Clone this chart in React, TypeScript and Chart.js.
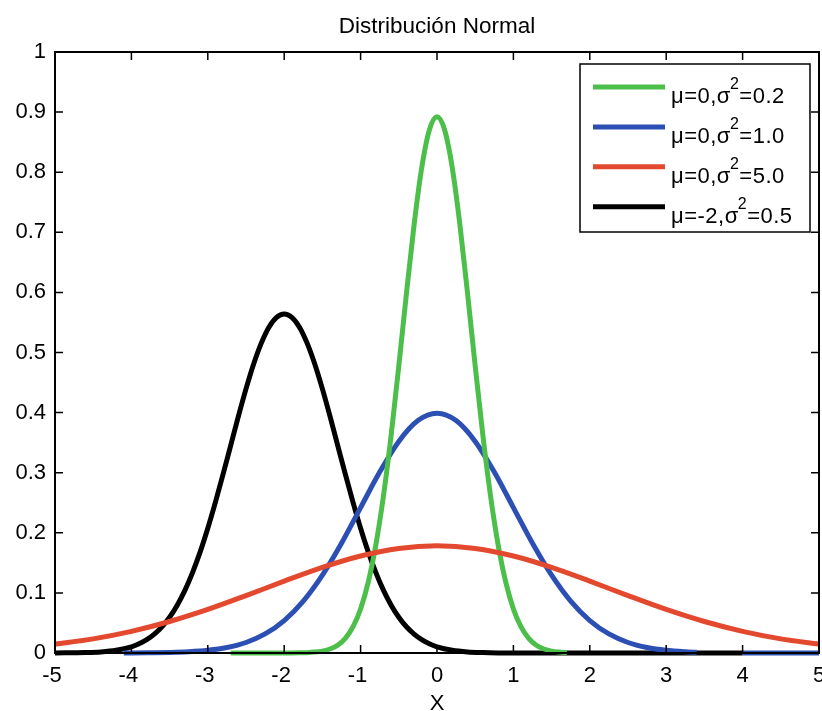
import React, { useEffect, useRef } from 'react';
import { Chart, registerables } from 'chart.js';

Chart.register(...registerables);

const TITLE = 'Distribución Normal';
const X_LABEL = 'X';
const FONT = '"Liberation Sans", Arial, Helvetica, sans-serif';

const X_MIN = -5;
const X_MAX = 5;
const Y_MIN = 0;
const Y_MAX = 1;

// μ=0, σ²=0.2
const greenX = [-2.7, -2, -1.8, -1.7, -1.6, -1.5, -1.4, -1.3, -1.2, -1.1, -1.0, -0.9, -0.8, -0.7, -0.6, -0.5, -0.4, -0.3, -0.2, -0.1, 0, 0.1, 0.2, 0.3, 0.4, 0.5, 0.6, 0.7, 0.8, 0.9, 1.0, 1.1, 1.2, 1.3, 1.4, 1.5, 1.6, 1.7];
const greenY = [0, 0, 0.0003, 0.0006, 0.0015, 0.0032, 0.0066, 0.013, 0.0244, 0.0434, 0.0732, 0.1178, 0.1801, 0.2621, 0.3627, 0.4775, 0.598, 0.7124, 0.8072, 0.8701, 0.8921, 0.8701, 0.8072, 0.7124, 0.598, 0.4775, 0.3627, 0.2621, 0.1801, 0.1178, 0.0732, 0.0434, 0.0244, 0.013, 0.0066, 0.0032, 0.0015, 0.0006];

// μ=0, σ²=1.0
const blueX = [-4.1, -4, -3.75, -3.5, -3.25, -3, -2.75, -2.5, -2.25, -2, -1.75, -1.5, -1.25, -1, -0.75, -0.5, -0.25, 0, 0.25, 0.5, 0.75, 1, 1.25, 1.5, 1.75, 2, 2.25, 2.5, 2.75, 3, 3.25, 3.4, 3.7, 4, 4.5, 5];
const blueY = [0.0001, 0.0001, 0.0004, 0.0009, 0.002, 0.0044, 0.0091, 0.0175, 0.0317, 0.054, 0.0863, 0.1295, 0.1826, 0.242, 0.3011, 0.3521, 0.3867, 0.3989, 0.3867, 0.3521, 0.3011, 0.242, 0.1826, 0.1295, 0.0863, 0.054, 0.0317, 0.0175, 0.0091, 0.0044, 0.002, 0.0012, null, 0.0001, 0, 0];

// μ=0, σ²=5.0
const redX = [-5, -4.5, -4, -3.5, -3, -2.5, -2, -1.5, -1, -0.5, 0, 0.5, 1, 1.5, 2, 2.5, 3, 3.5, 4, 4.5, 5];
const redY = [0.0146, 0.0235, 0.036, 0.0524, 0.0725, 0.0955, 0.1196, 0.1425, 0.1614, 0.174, 0.1784, 0.174, 0.1614, 0.1425, 0.1196, 0.0955, 0.0725, 0.0524, 0.036, 0.0235, 0.0146];

// μ=-2, σ²=0.5
const blackX = [-5, -4.6, -4.4, -4.2, -4, -3.9, -3.8, -3.7, -3.6, -3.5, -3.4, -3.3, -3.2, -3.1, -3, -2.9, -2.8, -2.7, -2.6, -2.5, -2.4, -2.3, -2.2, -2.1, -2, -1.9, -1.8, -1.7, -1.6, -1.5, -1.4, -1.3, -1.2, -1.1, -1, -0.9, -0.8, -0.7, -0.6, -0.5, -0.4, -0.3, -0.2, -0.1, 0, 0.2, 0.4, 0.6, 0.8, 1, 2, 3, 4];
const blackY = [0.0001, 0.0007, 0.0018, 0.0045, 0.0103, 0.0153, 0.0221, 0.0314, 0.0436, 0.0595, 0.0795, 0.1041, 0.1337, 0.1682, 0.2076, 0.251, 0.2975, 0.3456, 0.3936, 0.4394, 0.4808, 0.5156, 0.5421, 0.5586, 0.5642, 0.5586, 0.5421, 0.5156, 0.4808, 0.4394, 0.3936, 0.3456, 0.2975, 0.251, 0.2076, 0.1682, 0.1337, 0.1041, 0.0795, 0.0595, 0.0436, 0.0314, 0.0221, 0.0153, 0.0103, 0.0045, 0.0018, 0.0007, 0.0002, 0.0001, 0, 0, 0];

// legend labels: [before superscript, superscript, after superscript]
const legendLabels = [
  ['μ=0,σ', '2', '=0.2'],
  ['μ=0,σ', '2', '=1.0'],
  ['μ=0,σ', '2', '=5.0'],
  ['μ=-2,σ', '2', '=0.5'],
];
const seriesColors = ['#4cbf4a', '#2c4fb3', '#e2492f', '#000000'];

const toPoints = (xs: number[], ys: (number | null)[]) => xs.map((x, i) => ({ x, y: ys[i] }));

const framePlugin = {
  id: 'matlabFrame',
  afterDatasetsDraw(chart: any) {
    const { ctx, chartArea, scales } = chart;
    const { left, right, top, bottom } = chartArea;
    const xs = scales.x;
    const ys = scales.y;
    ctx.save();
    ctx.strokeStyle = '#000';
    ctx.lineWidth = 1.5;
    const tl = 8;
    ctx.beginPath();
    xs.ticks.forEach((t: any) => {
      const px = xs.getPixelForValue(t.value);
      ctx.moveTo(px, bottom);
      ctx.lineTo(px, bottom - tl);
      ctx.moveTo(px, top);
      ctx.lineTo(px, top + tl);
    });
    ys.ticks.forEach((t: any) => {
      const py = ys.getPixelForValue(t.value);
      ctx.moveTo(left, py);
      ctx.lineTo(left + tl, py);
      ctx.moveTo(right, py);
      ctx.lineTo(right - tl, py);
    });
    ctx.stroke();
    ctx.lineWidth = 2;
    ctx.strokeRect(left, top, right - left, bottom - top);

    // legend
    const bw = 230;
    const bh = 168;
    const bx = right - 239;
    const by = top + 12;
    ctx.fillStyle = '#fff';
    ctx.fillRect(bx, by, bw, bh);
    ctx.lineWidth = 1.5;
    ctx.strokeRect(bx, by, bw, bh);
    legendLabels.forEach((parts, i) => {
      const ry = by + 23 + i * 39.9;
      ctx.strokeStyle = seriesColors[i];
      ctx.lineWidth = 5;
      ctx.beginPath();
      ctx.moveTo(bx + 13, ry);
      ctx.lineTo(bx + 85, ry);
      ctx.stroke();
      ctx.fillStyle = '#000';
      ctx.textBaseline = 'alphabetic';
      ctx.textAlign = 'left';
      (ctx as any).letterSpacing = '0.5px';
      let tx = bx + 91;
      const base = ry + 16;
      ctx.font = `22px ${FONT}`;
      ctx.fillText(parts[0], tx, base);
      tx += ctx.measureText(parts[0]).width;
      ctx.font = `16px ${FONT}`;
      ctx.fillText(parts[1], tx - 1, base - 14);
      tx += ctx.measureText(parts[1]).width - 1;
      ctx.font = `22px ${FONT}`;
      ctx.fillText(parts[2], tx, base);
      (ctx as any).letterSpacing = '0px';
    });
    ctx.restore();
  },
};

export default function App() {
  const ref = useRef<HTMLCanvasElement>(null);
  useEffect(() => {
    document.body.style.margin = '0';
    const common = {
      borderWidth: 5,
      pointRadius: 0,
      pointHoverRadius: 0,
      fill: false,
      cubicInterpolationMode: 'monotone' as const,
      clip: false as const,
      spanGaps: false,
    };
    const chart = new Chart(ref.current!, {
      type: 'line',
      data: {
        datasets: [
          { ...common, label: legendLabels[0].join(''), data: toPoints(greenX, greenY), borderColor: seriesColors[0], order: 1 },
          { ...common, label: legendLabels[1].join(''), data: toPoints(blueX, blueY), borderColor: seriesColors[1], order: 2 },
          { ...common, label: legendLabels[2].join(''), data: toPoints(redX, redY), borderColor: seriesColors[2], order: 0 },
          { ...common, label: legendLabels[3].join(''), data: toPoints(blackX, blackY), borderColor: seriesColors[3], order: 3 },
        ] as any,
      },
      options: {
        animation: false,
        responsive: false,
        maintainAspectRatio: false,
        devicePixelRatio: 1,
        layout: { padding: { left: 0, right: 3, top: 0, bottom: 0 } },
        plugins: {
          legend: { display: false },
          tooltip: { enabled: false },
          title: {
            display: true,
            text: TITLE,
            fullSize: false,
            color: '#000',
            font: { family: FONT, size: 22.5, weight: 'normal' },
            padding: { top: 13, bottom: 12 },
          },
        },
        scales: {
          x: {
            type: 'linear',
            min: X_MIN,
            max: X_MAX,
            grid: { display: false, drawTicks: false },
            border: { display: false },
            ticks: {
              stepSize: 1,
              color: '#000',
              padding: 10,
              maxRotation: 0,
              font: { family: FONT, size: 22 },
              callback: (v: any) => (Number(v) < 0 ? `${v} ` : `${v}`),
            },
            title: {
              display: true,
              text: X_LABEL,
              color: '#000',
              font: { family: FONT, size: 22, lineHeight: 0.82 },
              padding: { top: 0, bottom: -2 },
            },
            afterFit: (s: any) => {
              s.height = 58;
              s.paddingLeft = 0;
              s.paddingRight = 0;
            },
          },
          y: {
            type: 'linear',
            min: Y_MIN,
            max: Y_MAX,
            grid: { display: false, drawTicks: false },
            border: { display: false },
            ticks: {
              stepSize: 0.1,
              color: '#000',
              padding: 9,
              font: { family: FONT, size: 22 },
              callback: (v: any) => String(Math.round(Number(v) * 10) / 10),
            },
            afterFit: (s: any) => {
              s.width = 55;
              s.paddingTop = 0;
              s.paddingBottom = 0;
            },
          },
        },
      },
      plugins: [framePlugin],
    });
    return () => chart.destroy();
  }, []);
  return (
    <div style={{ width: 822, height: 711, background: '#fff' }}>
      <canvas ref={ref} width={822} height={711} style={{ display: 'block' }} />
    </div>
  );
}
